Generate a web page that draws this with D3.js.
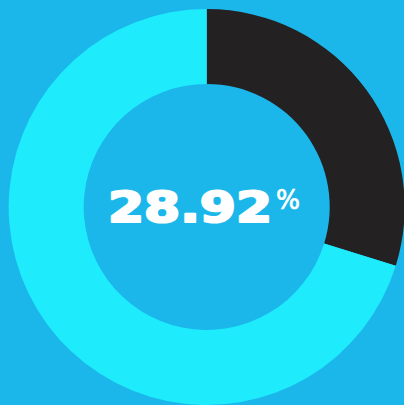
<!DOCTYPE html>
<html>
<head>
<meta charset="utf-8">
<script src="https://cdn.jsdelivr.net/npm/d3@7"></script>
<style>
  html, body { margin: 0; padding: 0; background: #1cb7ea; overflow: hidden; }
</style>
</head>
<body>
<svg id="chart"></svg>
<script>
// slice shares as they appear in the picture (dark = share, cyan = rest)
const sliceNames = ['share', 'rest'];
const sliceValues = [29.8, 70.2];
const sliceColors = ['#242123', '#1eecfd'];
const labelValue = '28.92';
const labelUnit = '%';

const WIDTH = 404, HEIGHT = 405;
const cx = 206.7, cy = 207;
const outerR = 198, innerR = 123;

const svg = d3.select('#chart')
  .attr('width', WIDTH)
  .attr('height', HEIGHT);

svg.append('rect')
  .attr('width', WIDTH)
  .attr('height', HEIGHT)
  .attr('fill', '#1cb7ea');

const g = svg.append('g').attr('transform', `translate(${cx},${cy})`);

const pie = d3.pie().sort(null).value(d => d.value);
const arc = d3.arc().innerRadius(innerR).outerRadius(outerR);

const slices = pie(sliceNames.map((n, i) => ({ name: n, value: sliceValues[i] })));

g.selectAll('path.slice')
  .data(slices)
  .enter().append('path')
  .attr('class', 'slice')
  .attr('d', arc)
  .attr('fill', (d, i) => sliceColors[i]);

// big number in the middle (stroke thickens it toward a black weight)
svg.append('text')
  .attr('x', 108)
  .attr('y', 221.5)
  .attr('textLength', 164)
  .attr('lengthAdjust', 'spacingAndGlyphs')
  .attr('fill', '#ffffff')
  .attr('stroke', '#ffffff')
  .attr('stroke-width', 2.2)
  .attr('stroke-linejoin', 'round')
  .attr('font-family', 'DejaVu Sans')
  .attr('font-weight', 'bold')
  .attr('font-size', 43)
  .text(labelValue);

// superscript percent sign
svg.append('text')
  .attr('x', 276)
  .attr('y', 209)
  .attr('textLength', 24)
  .attr('lengthAdjust', 'spacingAndGlyphs')
  .attr('fill', '#ffffff')
  .attr('stroke', '#ffffff')
  .attr('stroke-width', 0.7)
  .attr('font-family', 'DejaVu Sans')
  .attr('font-weight', 'normal')
  .attr('font-size', 26)
  .text(labelUnit);
</script>
</body>
</html>
